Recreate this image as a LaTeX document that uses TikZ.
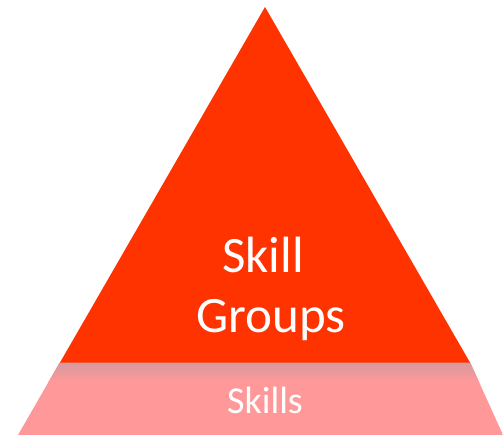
\documentclass[tikz,border=0pt]{standalone}
\usepackage{fontspec}
\setmainfont{Carlito}
\definecolor{topred}{HTML}{FF3300}
\definecolor{bandpink}{HTML}{FF9999}
\definecolor{bandshade}{HTML}{D69A9D}
\begin{document}
\begin{tikzpicture}[x=1pt,y=-1pt,
  lbl/.style={text=white,inner sep=0pt,anchor=base}]
\useasboundingbox (0,0) rectangle (503,435);
\fill[white] (0,0) rectangle (503,435);
% pink band
\begin{scope}
\clip (60,362) -- (470,362) -- (503,435) -- (18,435) -- cycle;
\fill[bandpink] (0,362) rectangle (503,435);
\shade[top color=bandshade,bottom color=bandpink] (0,362) rectangle (503,382);
\end{scope}
% red triangle
\fill[topred] (265,7) -- (470,362.5) -- (60,362.5) -- cycle;
\node[lbl,font=\fontsize{51}{60}\selectfont] (skill) at (263,273) {Skill};
\node[lbl,font=\fontsize{51}{60}\selectfont] (groups) at (271,333) {Groups};
\node[lbl,font=\fontsize{38}{45}\selectfont] (skills) at (265,413) {Skills};
\end{tikzpicture}
\end{document}
